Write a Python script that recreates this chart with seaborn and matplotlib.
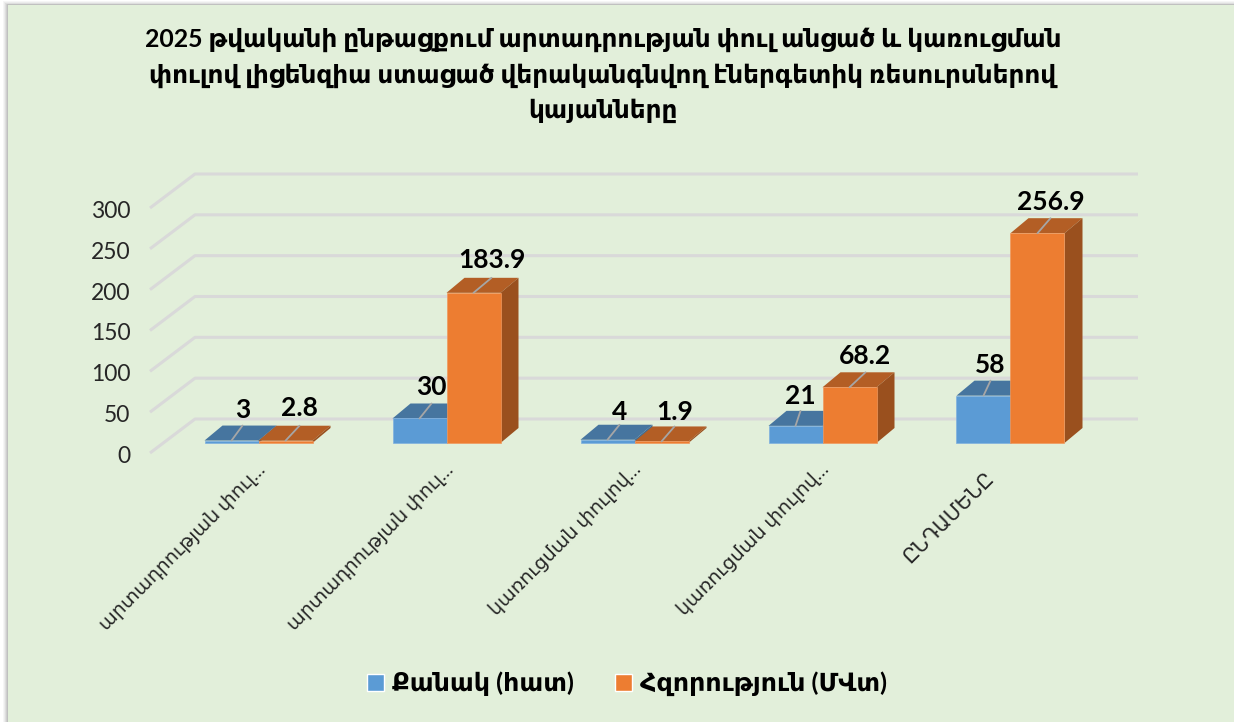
import matplotlib
matplotlib.use('Agg')
import matplotlib.pyplot as plt
from matplotlib.patches import Polygon, Rectangle
from matplotlib.transforms import ScaledTranslation
import numpy as np
import pandas as pd
import seaborn as sns

# data
groups = [0, 1, 2, 3, 4]
group_labels = ['արտադրության փուլ…', 'արտադրության փուլ…', 'կառուցման փուլով…', 'կառուցման փուլով…', 'ԸՆԴԱՄԵՆԸ']
count_values = [3, 30, 4, 21, 58]
power_values = [2.8, 183.9, 1.9, 68.2, 256.9]
count_name = 'Քանակ (հատ)'
power_name = 'Հզորություն (ՄՎտ)'
y_ticks = [0, 50, 100, 150, 200, 250, 300]
title_text = ('2025 թվականի ընթացքում արտադրության փուլ անցած և կառուցման\n'
              'փուլով լիցենզիա ստացած վերականգնվող էներգետիկ ռեսուրսներով\n'
              'կայանները')
count_labels = ['3', '30', '4', '21', '58']
power_labels = ['2.8', '183.9', '1.9', '68.2', '256.9']

# how far the leader lines lean to the right and how high the labels sit, px
count_lean = [11, 12, 12, 5, 7]
power_lean = [14, 18, 13, 16, 13]
count_rise = [31, 31, 28, 30, 31]
power_rise = [33, 33, 29, 31, 31]

W, H = 1234, 722
PX_X = 188.0     # px per category
PX_Y = 0.8167    # px per value unit
DEPTH_X, DEPTH_Y = 18, 15      # bar depth, px
FRONT_DROP = 10 / PX_Y         # axis front edge below bar base
BACK_RISE = 24 / PX_Y          # back wall above bar base
BG = '#E2EFDA'
CENTER0 = 258.5                # px of the first group

df = pd.DataFrame({
    'group': groups + groups,
    'value': count_values + power_values,
    'series': [count_name] * len(groups) + [power_name] * len(groups),
})

sns.set_style('white')
plt.rcParams['font.family'] = ['Lato', 'DejaVu Sans']

fig = plt.figure(figsize=(W / 100, H / 100), dpi=100, facecolor='white')

# panel with a soft shadow on top and left
for xo, yo, col in [(3, 1, '#f6f6f6'), (4, 2, '#ececec'), (5, 3, '#dedede'),
                    (6, 4, '#cfcfcf'), (7, 4, '#c0c0c0')]:
    fig.add_artist(Rectangle((xo / W, 0), 1, (H - yo) / H, transform=fig.transFigure,
                             facecolor=col, edgecolor='none', zorder=-3))
fig.add_artist(Rectangle((8 / W, 0), 1, (H - 5) / H, transform=fig.transFigure,
                         facecolor=BG, edgecolor='none', zorder=-2))

ax = fig.add_axes([150 / W, (H - 453) / H, (1138 - 150) / W, (453 - 173) / H])
ax.patch.set_visible(False)

sns.barplot(data=df, x='group', y='value', hue='series', order=groups,
            palette=['#5B9BD5', '#ED7D31'], width=108 / PX_X, gap=0,
            saturation=1, ax=ax, zorder=4)

ax.set_xlim((150 - CENTER0) / PX_X, (1138 - CENTER0) / PX_X)
ax.set_ylim(-FRONT_DROP, (443 - 173) / PX_Y)
x0, x1 = ax.get_xlim()

# floor and back wall lines
for v in y_ticks:
    ax.plot([x0, x0 + 45 / PX_X, x1],
            [v - FRONT_DROP, v + BACK_RISE, v + BACK_RISE],
            color='#D9D9D9', lw=2.2, zorder=1, clip_on=False, solid_capstyle='butt')

# depth faces built from the bars seaborn drew
dx, dy = DEPTH_X / PX_X, DEPTH_Y / PX_Y
styles = [('#46759F', '#3F6C94', 4, '#7FB1DF', count_labels, count_lean, count_rise),
          ('#B35E25', '#9A501E', 6, '#F0995E', power_labels, power_lean, power_rise)]
for container, (top_col, side_col, z, edge, texts, leans, rises) in zip(ax.containers, styles):
    for bar, txt, lean, rise in zip(container.patches, texts, leans, rises):
        x, w, h = bar.get_x(), bar.get_width(), bar.get_height()
        bar.set_zorder(z)
        bar.set_edgecolor(edge)
        bar.set_linewidth(0.5)
        ax.add_patch(Polygon([(x, h), (x + w, h), (x + w + dx, h + dy), (x + dx, h + dy)],
                             facecolor=top_col, edgecolor='none', zorder=z - 1))
        ax.add_patch(Polygon([(x + w, 0), (x + w + dx, dy), (x + w + dx, h + dy), (x + w, h)],
                             facecolor=side_col, edgecolor='none', zorder=z - 1))
        cx = x + w / 2
        ax.plot([cx, cx + lean / PX_X], [h, h + dy], color='#A6A6A6', lw=1.3, zorder=8)
        ax.annotate(txt, (cx, h), xytext=(lean, rise), textcoords='offset pixels',
                    ha='center', va='center', fontsize=19, fontweight='bold',
                    color='black', zorder=9)

ax.set_yticks(np.array(y_ticks) - FRONT_DROP, labels=y_ticks)
ax.set_xticks(groups, labels=group_labels)
ax.set_xlabel('')
ax.set_ylabel('')
ax.tick_params(axis='y', length=0, pad=14, labelsize=16.5, labelcolor='#262626')
ax.tick_params(axis='x', length=0, pad=10, labelsize=13.8, labelcolor='#262626')
for lab in ax.get_yticklabels():
    lab.set_transform(lab.get_transform() + ScaledTranslation(0, -1.5 / 100, fig.dpi_scale_trans))
for lab in ax.get_xticklabels():
    lab.set_rotation(45)
    lab.set_rotation_mode('anchor')
    lab.set_ha('right')
    lab.set_va('center')
    sx, sy = 4, 0
    if lab.get_text() == 'ԸՆԴԱՄԵՆԸ':
        lab.set_fontsize(14.5)
        sx, sy = -20, -8
    lab.set_transform(lab.get_transform() + ScaledTranslation(sx / 100, sy / 100, fig.dpi_scale_trans))
sns.despine(ax=ax, left=True, bottom=True)

leg = ax.legend(loc='center', bbox_to_anchor=(627 / W, (H - 684) / H),
                bbox_transform=fig.transFigure, ncols=2, frameon=False,
                fontsize=18.3, handlelength=0.68, handleheight=0.68,
                handletextpad=0.32, columnspacing=1.6)
for t in leg.get_texts():
    t.set_fontweight('bold')
    t.set_color('black')

fig.text(603 / W, (H - 75.5) / H, title_text, ha='center', va='center',
         fontsize=17.8, fontweight='bold', color='black', linespacing=1.58)

plt.savefig('out.png', dpi=100)
